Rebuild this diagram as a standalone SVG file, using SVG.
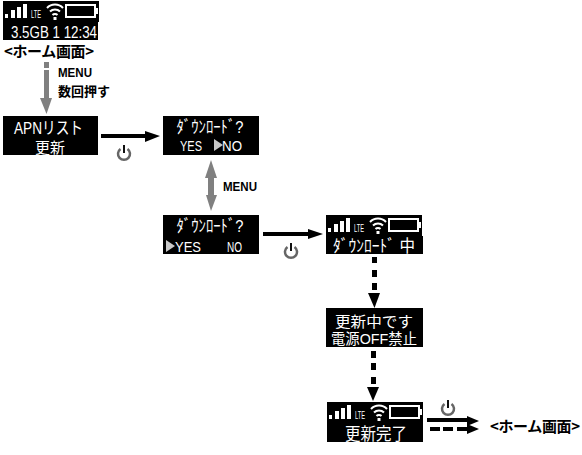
<svg xmlns="http://www.w3.org/2000/svg" width="582" height="455" viewBox="0 0 582 455">
<style>
.scr{fill:#000}
.t{font-family:"Liberation Sans","Noto Sans CJK JP",sans-serif;fill:#fff;text-anchor:middle;font-weight:400}
.s17{font-size:17px}
.s16{font-size:16px}
.s15{font-size:15px}
.l{font-family:"Liberation Sans","Noto Sans CJK JP",sans-serif;fill:#000;font-weight:700;font-size:12px}
.l2{font-size:13px}
.h{font-family:"Noto Sans CJK JP","Liberation Sans",sans-serif;fill:#000;font-weight:700;font-size:15px}
.lte{font-family:"Liberation Sans",sans-serif;fill:#fff;font-size:10px}
.b{fill:#000;stroke:none}
.g{fill:#808080;stroke:none}
.tri{fill:#c8c8c8}
.w{fill:#fff}
</style>
<defs>
<g id="status">
<rect class="scr" x="0" y="0" width="96" height="21"/>
<rect class="w" x="2" y="13" width="3" height="4"/>
<rect class="w" x="8" y="9" width="4" height="8"/>
<rect class="w" x="14" y="6" width="4" height="11"/>
<rect class="w" x="20" y="3" width="4" height="14"/>
<text class="lte" x="28" y="17" textLength="10" lengthAdjust="spacingAndGlyphs">LTE</text>
<path d="M44 7A11 11 0 0 1 60 7M47 10.500A7 7 0 0 1 57 10.500M49.500 14A3.500 3.500 0 0 1 54.500 14" fill="none" stroke="#fff" stroke-width="2"/>
<rect class="w" x="50.500" y="16" width="3" height="3"/>
<rect x="63" y="4" width="29" height="12" fill="#000" stroke="#fff" stroke-width="2"/>
<rect class="w" x="93" y="7" width="2" height="6"/>
</g>
<g id="pw">
<path d="M-3.500-4A6 6 0 1 0 3.500-4" fill="none" stroke="#666" stroke-width="2.500"/>
<path d="M0-8V0" stroke="#111" stroke-width="2" fill="none"/>
</g>
</defs>

<g id="connectors">
<rect class="g" x="44" y="62" width="5" height="6"/>
<rect class="g" x="44" y="70" width="5" height="29"/>
<path class="g" d="M40 98H52L46.500 114Z"/>
<rect class="b" x="101" y="134" width="46" height="4"/>
<path class="b" d="M145 131L160 136L145 142Z"/>
<path class="g" d="M211 160L217 178H214V195H217L211 211L206 195H208V178H205Z"/>
<rect class="b" x="263" y="232" width="46" height="4"/>
<path class="b" d="M308 229L323 234L308 239Z"/>
<g class="b">
<rect x="372" y="257" width="5" height="6"/><rect x="372" y="270" width="5" height="7"/><rect x="372" y="283" width="5" height="7"/>
<path d="M368 293H380L374.500 308Z"/>
<rect x="371" y="351" width="5" height="7"/><rect x="371" y="363" width="5" height="7"/><rect x="371" y="377" width="5" height="7"/>
<path d="M367 387H379L373 401Z"/>
<rect x="427" y="418" width="41" height="4"/>
<path d="M467 416L479 421L467 426Z"/>
<rect x="430" y="427" width="10" height="4"/><rect x="443" y="427" width="10" height="4"/><rect x="457" y="427" width="10" height="4"/>
<path d="M467 424L479 429L467 434Z"/>
</g>
</g>

<g id="home">
<use href="#status" x="3" y="1"/>
<rect class="scr" x="3" y="21" width="95" height="19"/>
<text class="t s17" x="54" y="38" textLength="86" lengthAdjust="spacingAndGlyphs">3.5GB 1 12:34</text>
<text class="h" x="4" y="57" textLength="90" lengthAdjust="spacing">&lt;ホーム画面&gt;</text>
</g>
<g id="menu1"><text class="l" x="58" y="77" textLength="34" lengthAdjust="spacingAndGlyphs">MENU</text><text class="l l2" x="58" y="96">数回押す</text></g>
<g id="apn">
<rect class="scr" x="3" y="116" width="95" height="39"/>
<text class="t s17" x="48.500" y="134" textLength="69" lengthAdjust="spacingAndGlyphs">APNリスト</text>
<text class="t s15" x="50" y="153" textLength="30" lengthAdjust="spacingAndGlyphs">更新</text>
</g>
<use id="pw1" href="#pw" x="124" y="153"/>
<g id="dl-no">
<rect class="scr" x="163" y="116" width="96" height="39"/>
<text class="t s17" x="210" y="133" textLength="67" lengthAdjust="spacingAndGlyphs">ﾀﾞｳﾝﾛｰﾄﾞ?</text>
<text class="t s15" x="191" y="151" textLength="22" lengthAdjust="spacingAndGlyphs">YES</text>
<path class="tri" d="M214 139L223 145L214 151Z"/>
<text class="t s15" x="232" y="151" textLength="20" lengthAdjust="spacingAndGlyphs">NO</text>
</g>
<g id="menu2"><text class="l" x="223" y="191" textLength="34" lengthAdjust="spacingAndGlyphs">MENU</text></g>
<g id="dl-yes">
<rect class="scr" x="163" y="215" width="96" height="39"/>
<text class="t s17" x="210" y="232" textLength="67" lengthAdjust="spacingAndGlyphs">ﾀﾞｳﾝﾛｰﾄﾞ?</text>
<path class="tri" d="M166 240L175 246L166 252Z"/>
<text class="t s15" x="188" y="252" textLength="26" lengthAdjust="spacingAndGlyphs">YES</text>
<text class="t s15" x="234.500" y="252" textLength="15" lengthAdjust="spacingAndGlyphs">NO</text>
</g>
<use id="pw2" href="#pw" x="291" y="251"/>
<g id="downloading">
<use href="#status" x="326" y="215"/>
<rect class="scr" x="326" y="236" width="97" height="18"/>
<text class="t s17" x="374" y="252" textLength="82" lengthAdjust="spacingAndGlyphs">ﾀﾞｳﾝﾛｰﾄﾞ 中</text>
</g>
<g id="updating">
<rect class="scr" x="326" y="308" width="97" height="39"/>
<text class="t s15" x="374" y="327" textLength="78" lengthAdjust="spacingAndGlyphs">更新中です</text>
<text class="t s15" x="374" y="344" textLength="86" lengthAdjust="spacingAndGlyphs">電源OFF禁止</text>
</g>
<g id="done">
<use href="#status" x="327" y="402"/>
<rect class="scr" x="327" y="423" width="96" height="19"/>
<text class="t s17" x="376" y="440" textLength="62" lengthAdjust="spacingAndGlyphs">更新完了</text>
</g>
<use id="pw3" href="#pw" x="448" y="408"/>
<g id="home2"><text class="h" x="490" y="432" textLength="90" lengthAdjust="spacing">&lt;ホーム画面&gt;</text></g>
</svg>
